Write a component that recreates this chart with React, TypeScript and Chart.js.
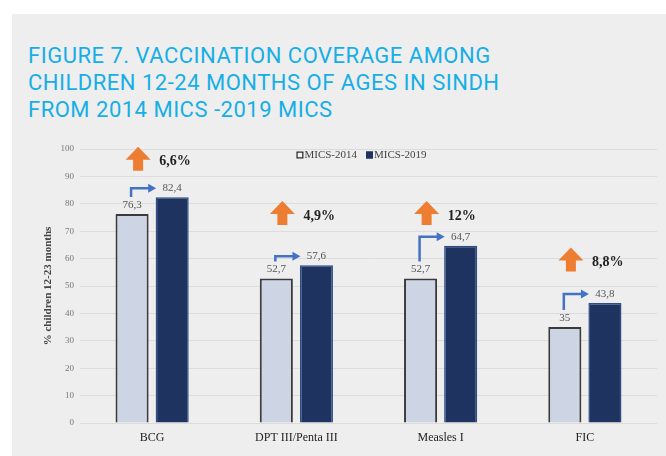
import React, { useEffect, useRef } from 'react';
import { Chart, registerables } from 'chart.js';

Chart.register(...registerables);

const categories = ['BCG', 'DPT III/Penta III', 'Measles I', 'FIC'];
const seriesNames = ['MICS-2014', 'MICS-2019'];
const mics2014 = [76.3, 52.7, 52.7, 35];
const mics2019 = [82.4, 57.6, 64.7, 43.8];
const changeLabels = ['6,6%', '4,9%', '12%', '8,8%'];
const changeLevels = [96.4, 76.6, 76.6, 59.7];
const yMin = 0;
const yMax = 100;
const yStep = 10;

const SERIF = '"Liberation Serif", "Times New Roman", serif';
const COLORS_2014 = { fill: '#cdd5e4', border: '#3a3a3a' };
const COLORS_2019 = { fill: '#1f3360', border: '#2d4d85' };

const fmt = (v: number) => String(v).replace('.', ',');

const annotationsPlugin = {
  id: 'annotations',
  afterDatasetsDraw(chart: any) {
    const ctx = chart.ctx;
    const m0 = chart.getDatasetMeta(0);
    const m1 = chart.getDatasetMeta(1);
    const ys = chart.scales.y;
    const area = chart.chartArea;
    ctx.save();

    // legend
    ctx.font = `11px ${SERIF}`;
    ctx.textBaseline = 'middle';
    ctx.textAlign = 'left';
    const legendY = area.top + 6;
    const box = 7;
    const gap = 1;
    const itemGap = 9;
    const w0 = ctx.measureText(seriesNames[0]).width;
    const w1 = ctx.measureText(seriesNames[1]).width;
    const total = box + gap + w0 + itemGap + box + gap + w1;
    let lx = (area.left + area.right) / 2 - 7 - total / 2;
    const drawItem = (name: string, w: number, fill: string, stroke: string) => {
      ctx.fillStyle = fill;
      ctx.fillRect(lx, legendY - box / 2, box, box);
      ctx.strokeStyle = stroke;
      ctx.lineWidth = 1.2;
      ctx.strokeRect(lx + 0.6, legendY - box / 2 + 0.6, box - 1.2, box - 1.2);
      ctx.fillStyle = '#444444';
      ctx.fillText(name, lx + box + gap, legendY + 0.5);
      lx += box + gap + w + itemGap;
    };
    drawItem(seriesNames[0], w0, '#f4f4f4', '#222222');
    drawItem(seriesNames[1], w1, COLORS_2019.fill, COLORS_2019.fill);

    for (let i = 0; i < categories.length; i++) {
      const b0 = m0.data[i];
      const b1 = m1.data[i];
      // value labels
      ctx.font = `11px ${SERIF}`;
      ctx.fillStyle = '#555555';
      ctx.textAlign = 'center';
      ctx.textBaseline = 'middle';
      ctx.fillText(fmt(mics2014[i]), b0.x, b0.y - 9);
      ctx.fillText(fmt(mics2019[i]), b1.x, b1.y - 9);

      // blue bent arrow
      const vx = b0.x - 1;
      const vy0 = b0.y - 17;
      const hy = b1.y - 9;
      const tipX = b1.x - 16;
      ctx.strokeStyle = '#4472c4';
      ctx.fillStyle = '#4472c4';
      ctx.lineWidth = 2.5;
      ctx.lineJoin = 'miter';
      ctx.beginPath();
      ctx.moveTo(vx, vy0);
      ctx.lineTo(vx, hy);
      ctx.lineTo(tipX - 6, hy);
      ctx.stroke();
      ctx.beginPath();
      ctx.moveTo(tipX, hy);
      ctx.lineTo(tipX - 8, hy - 4.5);
      ctx.lineTo(tipX - 8, hy + 4.5);
      ctx.closePath();
      ctx.fill();

      // orange up arrow
      const cx = (b0.x + b1.x) / 2 - 14;
      const cy = ys.getPixelForValue(changeLevels[i]);
      ctx.fillStyle = '#ed7d31';
      ctx.beginPath();
      ctx.moveTo(cx, cy - 12);
      ctx.lineTo(cx + 12.5, cy + 1);
      ctx.lineTo(cx + 5, cy + 1);
      ctx.lineTo(cx + 5, cy + 12);
      ctx.lineTo(cx - 5, cy + 12);
      ctx.lineTo(cx - 5, cy + 1);
      ctx.lineTo(cx - 12.5, cy + 1);
      ctx.closePath();
      ctx.fill();

      ctx.font = `bold 14px ${SERIF}`;
      ctx.fillStyle = '#222222';
      ctx.textAlign = 'left';
      ctx.textBaseline = 'middle';
      ctx.fillText(changeLabels[i], cx + 21, cy + 3);
    }
    ctx.restore();
  },
};

export default function App() {
  const canvasRef = useRef<HTMLCanvasElement | null>(null);

  useEffect(() => {
    if (!canvasRef.current) return;
    const chart = new Chart(canvasRef.current, {
      type: 'bar',
      data: {
        labels: categories,
        datasets: [
          {
            label: seriesNames[0],
            data: mics2014,
            backgroundColor: COLORS_2014.fill,
            borderColor: COLORS_2014.border,
            borderWidth: 2,
            categoryPercentage: 0.556,
            barPercentage: 0.825,
          },
          {
            label: seriesNames[1],
            data: mics2019,
            backgroundColor: COLORS_2019.fill,
            borderColor: COLORS_2019.border,
            borderWidth: 1.5,
            categoryPercentage: 0.556,
            barPercentage: 0.825,
          },
        ],
      },
      options: {
        responsive: false,
        animation: false,
        devicePixelRatio: 1,
        layout: { padding: { left: 42, right: 9, top: 149, bottom: 0 } },
        plugins: {
          legend: { display: false },
          tooltip: { enabled: false },
          title: { display: false },
        },
        scales: {
          x: {
            grid: { display: false, drawTicks: false },
            border: { display: false },
            ticks: {
              color: '#222222',
              padding: 8,
              font: { family: SERIF, size: 12 },
            },
            afterFit: (s: any) => {
              s.height = 33;
            },
          },
          y: {
            min: yMin,
            max: yMax,
            grid: { color: '#dcdcdc', lineWidth: 1, drawTicks: false },
            border: { display: false },
            ticks: {
              stepSize: yStep,
              color: '#777777',
              padding: 6,
              font: { family: SERIF, size: 9 },
            },
            title: {
              display: true,
              text: '% children 12-23 months',
              color: '#444444',
              padding: 0,
              font: { family: SERIF, size: 11, weight: 'bold' },
            },
            afterFit: (s: any) => {
              s.width = 38;
            },
          },
        },
      },
      plugins: [annotationsPlugin],
    } as any);
    return () => chart.destroy();
  }, []);

  return (
    <div>
      <div
        style={{
          position: 'absolute',
          left: 12,
          top: 14,
          width: 654,
          height: 442,
          background: '#eeeeee',
        }}
      />
      <div
        style={{
          position: 'absolute',
          left: 28,
          top: 42,
          color: '#16aee6',
          fontFamily: 'Roboto, "Liberation Sans", sans-serif',
          fontSize: 22,
          lineHeight: '27px',
          letterSpacing: '0.5px',
          whiteSpace: 'nowrap',
        }}
      >
        <div>FIGURE 7. VACCINATION COVERAGE AMONG</div>
        <div>CHILDREN 12-24 MONTHS OF AGES IN SINDH</div>
        <div>FROM 2014 MICS -2019 MICS</div>
      </div>
      <canvas
        ref={canvasRef}
        width={666}
        height={456}
        style={{ position: 'absolute', left: 0, top: 0, width: 666, height: 456 }}
      />
    </div>
  );
}
